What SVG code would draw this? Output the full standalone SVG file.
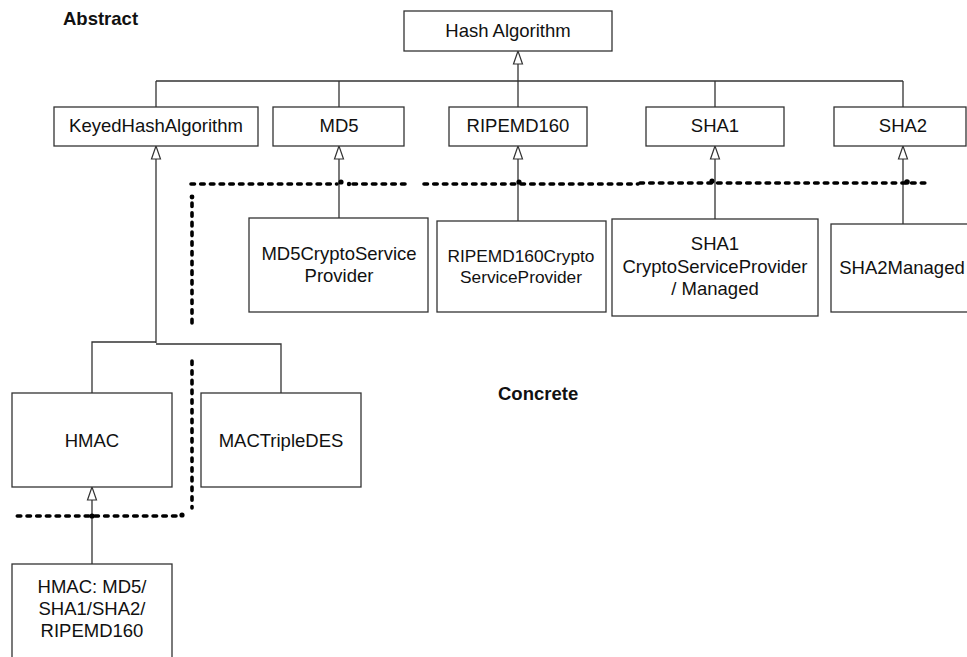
<svg xmlns="http://www.w3.org/2000/svg" width="967" height="657" viewBox="0 0 967 657">
<style>
.box{fill:#fff;stroke:#333;stroke-width:1.3}
.t{font-family:"Liberation Sans",Arial,sans-serif;font-size:18.5px;fill:#111;text-anchor:middle}
.lbl{font-family:"Liberation Sans",Arial,sans-serif;font-size:18.5px;font-weight:bold;fill:#111}
.ln{fill:none;stroke:#333;stroke-width:1.3}
.tri{fill:#fff;stroke:#333;stroke-width:1.2}
.dash{fill:none;stroke:#000;stroke-width:3.6;stroke-linecap:round;stroke-dasharray:3.5 6.2}
.dot{fill:#000}
</style>
<rect width="967" height="657" fill="#fff"/>
<text class="lbl" x="63" y="25">Abstract</text>
<text class="lbl" x="498" y="400">Concrete</text>
<g id="connectors">
<path class="ln" d="M518,64V107M156,81H903M156,81V107M339,81V107M715,81V107M903,81V107"/>
<path class="ln" d="M156,159V343M92,393V342H156M156,344H281V393"/>
<path class="ln" d="M339,159V218M518,159V221M715,159V219M903,159V224M92,500V564"/>
<polygon class="tri" points="518,51 513.5,64 522.5,64"/>
<polygon class="tri" points="156,146 151.5,159 160.5,159"/>
<polygon class="tri" points="339,146 334.5,159 343.5,159"/>
<polygon class="tri" points="518,146 513.5,159 522.5,159"/>
<polygon class="tri" points="715,146 710.5,159 719.5,159"/>
<polygon class="tri" points="903,146 898.5,159 907.5,159"/>
<polygon class="tri" points="92,487 87.5,500 96.5,500"/>
</g>
<g id="boundary">
<path class="dash" d="M191,184H337M353,184H410M424,184H638M640,183H930"/>
<path class="dash" d="M192,203V328M192,361V508M176,516H15"/>
<circle class="dot" cx="192" cy="197" r="2.4"/>
<circle class="dot" cx="341" cy="182" r="2.6"/>
<circle class="dot" cx="349" cy="184" r="2.2"/>
<circle class="dot" cx="519" cy="182" r="2.6"/>
<circle class="dot" cx="712" cy="181" r="2.6"/>
<circle class="dot" cx="907" cy="182" r="2.8"/>
<circle class="dot" cx="182" cy="515" r="2.6"/>
<circle class="dot" cx="92" cy="516" r="2.6"/>
</g>
<g id="hash-algorithm"><rect class="box" x="404" y="11" width="208" height="40"/><text class="t" x="508" y="37">Hash Algorithm</text></g>
<g id="keyed"><rect class="box" x="54" y="107" width="204" height="39"/><text class="t" x="156" y="132">KeyedHashAlgorithm</text></g>
<g id="md5"><rect class="box" x="273" y="107" width="131" height="39"/><text class="t" x="339" y="132">MD5</text></g>
<g id="ripemd160"><rect class="box" x="449" y="107" width="138" height="39"/><text class="t" x="518" y="132">RIPEMD160</text></g>
<g id="sha1"><rect class="box" x="646" y="107" width="138" height="39"/><text class="t" x="715" y="132">SHA1</text></g>
<g id="sha2"><rect class="box" x="834" y="107" width="132" height="39"/><text class="t" x="903" y="132">SHA2</text></g>
<g id="md5csp"><rect class="box" x="249" y="218" width="179" height="94"/><text class="t" x="339" y="260">MD5CryptoService</text><text class="t" x="339" y="282">Provider</text></g>
<g id="ripemdcsp"><rect class="box" x="437" y="221" width="169" height="91"/><text class="t" x="521" y="262" style="font-size:17.3px">RIPEMD160Crypto</text><text class="t" x="521" y="283" style="font-size:17.3px">ServiceProvider</text></g>
<g id="sha1csp"><rect class="box" x="612" y="219" width="206" height="97"/><text class="t" x="715" y="250">SHA1</text><text class="t" x="715" y="273">CryptoServiceProvider</text><text class="t" x="715" y="295">/ Managed</text></g>
<g id="sha2managed"><rect class="box" x="831" y="224" width="145" height="88"/><text class="t" x="902" y="274">SHA2Managed</text></g>
<g id="hmac"><rect class="box" x="12" y="393" width="160" height="94"/><text class="t" x="92" y="447">HMAC</text></g>
<g id="mactripledes"><rect class="box" x="201" y="393" width="160" height="94"/><text class="t" x="281" y="447">MACTripleDES</text></g>
<g id="hmac-variants"><rect class="box" x="12" y="564" width="160" height="100"/><text class="t" x="92" y="593">HMAC: MD5/</text><text class="t" x="92" y="615">SHA1/SHA2/</text><text class="t" x="92" y="637">RIPEMD160</text></g>
</svg>
